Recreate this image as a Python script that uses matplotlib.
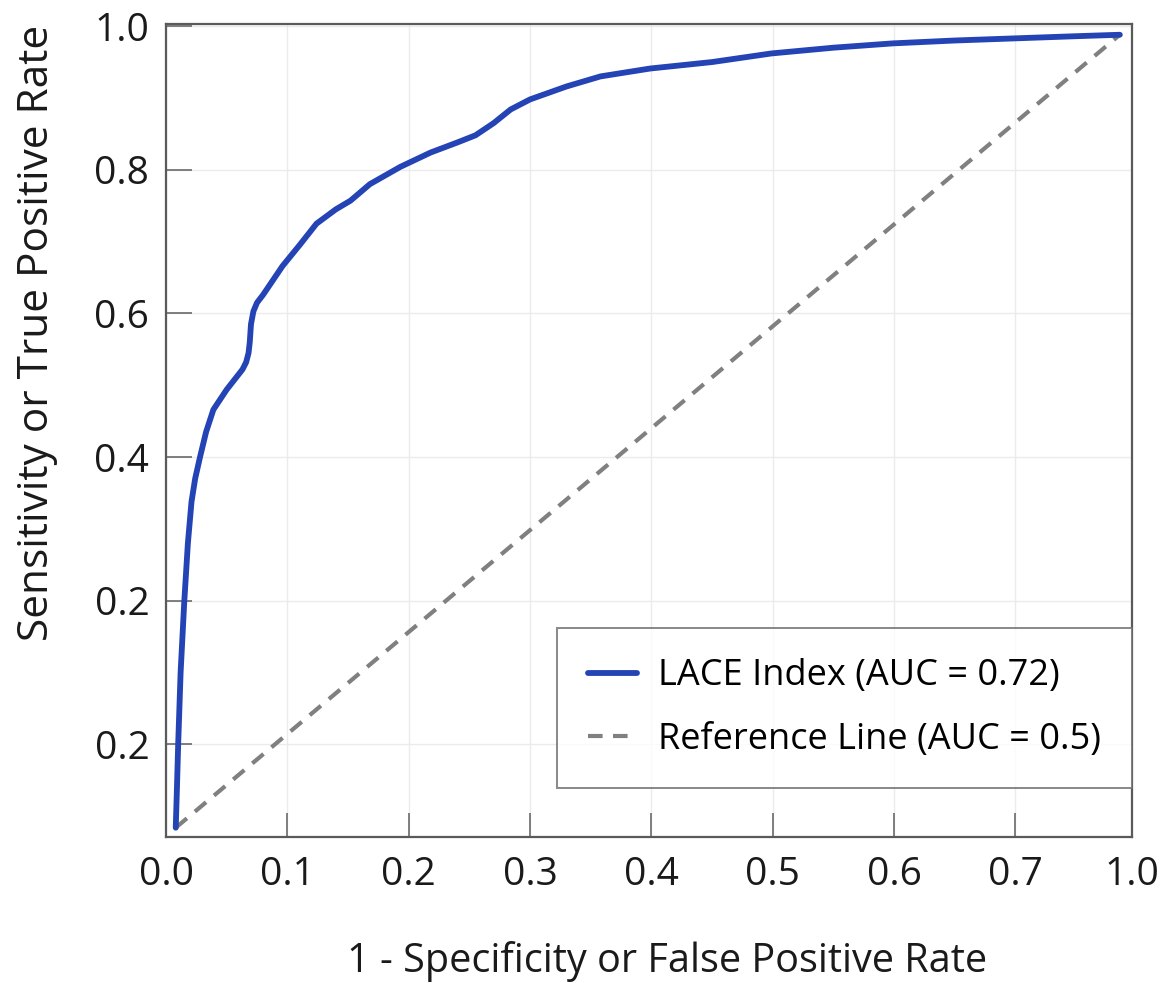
import matplotlib
matplotlib.use('Agg')
import matplotlib.pyplot as plt
import numpy as np

plt.rcParams['font.family'] = ['Open Sans', 'DejaVu Sans']

# ROC curve points (false positive rate, true positive rate)
fpr = [0.008, 0.009, 0.010, 0.012, 0.015, 0.018, 0.021, 0.024, 0.028, 0.033,
       0.039, 0.050, 0.063, 0.066, 0.068, 0.069, 0.070, 0.072, 0.075, 0.080,
       0.096, 0.110, 0.124, 0.140, 0.152, 0.168, 0.193, 0.218, 0.240, 0.255,
       0.270, 0.284, 0.300, 0.330, 0.358, 0.399, 0.450, 0.499, 0.550, 0.599,
       0.650, 0.700, 0.750, 0.786]
tpr = [-0.116, -0.060, 0.000, 0.100, 0.198, 0.280, 0.338, 0.370, 0.400, 0.435,
       0.466, 0.494, 0.522, 0.532, 0.545, 0.560, 0.585, 0.603, 0.615, 0.626,
       0.666, 0.695, 0.725, 0.745, 0.757, 0.780, 0.804, 0.824, 0.838, 0.848,
       0.865, 0.884, 0.898, 0.916, 0.930, 0.941, 0.950, 0.962, 0.970, 0.976,
       0.980, 0.983, 0.986, 0.988]

# chance line
ref_x = [0.008, 0.786]
ref_y = [-0.116, 0.988]

x_ticks = [0.0, 0.1, 0.2, 0.3, 0.4, 0.5, 0.6, 0.7, 0.796]
x_labels = ['0.0', '0.1', '0.2', '0.3', '0.4', '0.5', '0.6', '0.7', '1.0']
y_ticks = [0.0, 0.2, 0.4, 0.6, 0.8, 1.0]
y_labels = ['0.2', '0.2', '0.4', '0.6', '0.8', '1.0']

fig = plt.figure(figsize=(11.66, 9.83), dpi=100)
ax = fig.add_axes([0.1424, 0.1485, 0.8284, 0.8271])

ax.plot(fpr, tpr, color='#2443b5', lw=4.2, solid_joinstyle='round',
        solid_capstyle='round', label='LACE Index (AUC = 0.72)', zorder=3)
ax.plot(ref_x, ref_y, color='#808080', lw=3, ls=(0, (3.5, 2.5)),
        label='Reference Line (AUC = 0.5)', zorder=2)

ax.set_xlim(0, 0.796)
ax.set_ylim(-0.129, 1.003)
ax.set_xticks(x_ticks)
ax.set_xticklabels(x_labels)
ax.set_yticks(y_ticks)
ax.set_yticklabels(y_labels)

ax.grid(True, color='#ebebeb', lw=1)
ax.set_axisbelow(True)
for s in ax.spines.values():
    s.set_color('#5a5a5a')
    s.set_linewidth(1.6)

ax.tick_params(axis='x', direction='in', length=17, width=1.2, color='#6a6a6a',
               labelsize=28, pad=14, colors='#6a6a6a', labelcolor='#1a1a1a')
ax.tick_params(axis='y', direction='in', length=19, width=1.2, color='#6a6a6a',
               labelsize=28, pad=12, colors='#6a6a6a', labelcolor='#1a1a1a')

ax.set_xlabel('1 - Specificity or False Positive Rate', fontsize=28.5,
              color='#1a1a1a')
ax.xaxis.set_label_coords(0.519, -0.128)
ax.set_ylabel('Sensitivity or True Positive Rate', fontsize=30.5,
              color='#1a1a1a')
ax.yaxis.set_label_coords(-0.112, 0.62)

leg = ax.legend(loc='lower right', bbox_to_anchor=(1.0, 0.06), fontsize=26,
                frameon=True, fancybox=False, edgecolor='#6a6a6a',
                borderpad=0.85, labelspacing=0.75, handlelength=1.35,
                handletextpad=0.6, borderaxespad=0)
leg.get_frame().set_linewidth(1.4)

fig.savefig('out.png', dpi=100)
